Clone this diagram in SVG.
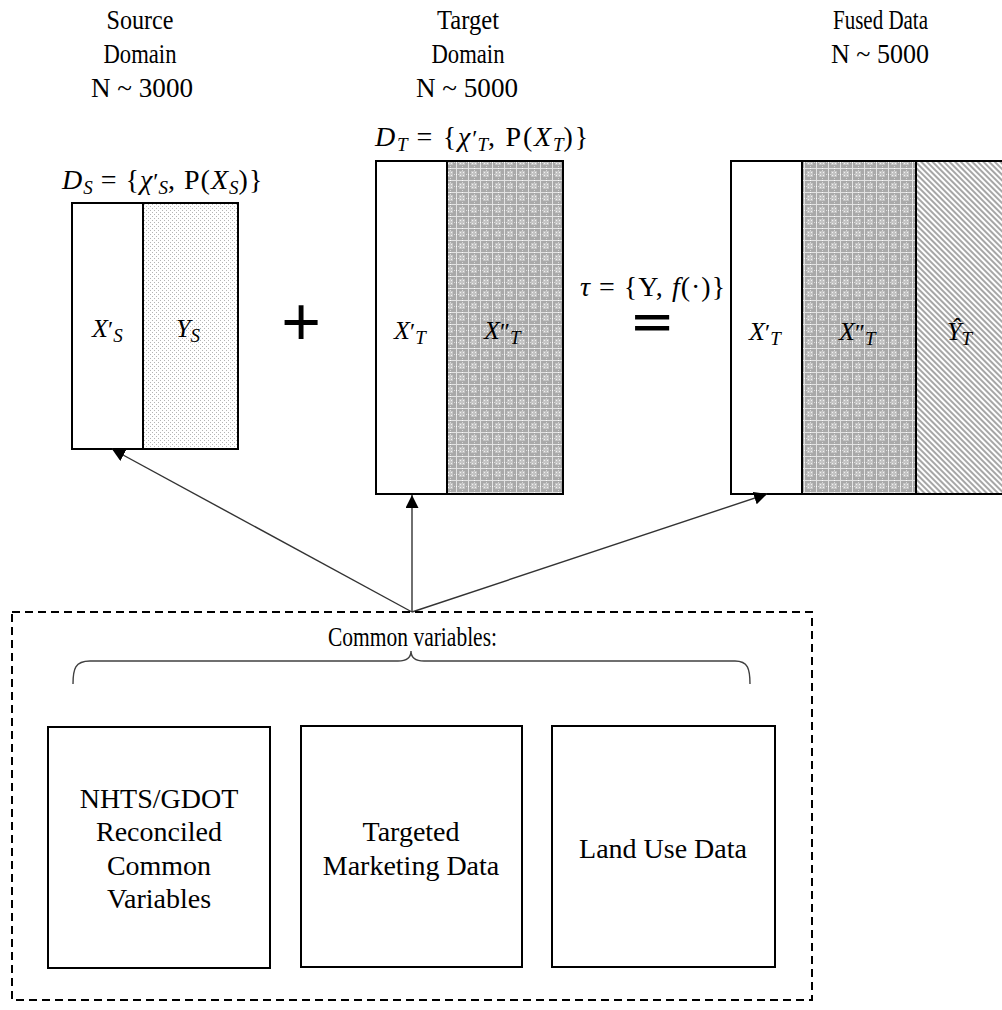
<svg xmlns="http://www.w3.org/2000/svg" width="1002" height="1010" viewBox="0 0 1002 1010">
<style>
.t{font-family:"Liberation Serif","Times New Roman",serif;fill:#000}
.h{font-size:27px}
.m{font-size:28px;letter-spacing:1px}
.m2{font-size:28px;letter-spacing:1.8px}
.bm{font-size:26px}
.bx{font-size:28px}
.i{font-style:italic}
.s{font-size:19px;letter-spacing:0}
.p{font-size:24px;letter-spacing:0}
.box{fill:#fff;stroke:#000;stroke-width:2}
.conn{stroke:#333;stroke-width:1.4;fill:none}
</style>
<defs>
<pattern id="dots" width="4" height="4" patternUnits="userSpaceOnUse">
<rect width="4" height="4" fill="#fff"/>
<rect x="0" y="0" width="1" height="1" fill="#b4b4b4"/>
<rect x="2" y="2" width="1" height="1" fill="#b4b4b4"/>
</pattern>
<pattern id="plaid" width="12" height="12" patternUnits="userSpaceOnUse">
<rect width="12" height="12" fill="#a9a9a9"/>
<rect x="3" y="3" width="6" height="6" fill="#c4c4c4"/>
<rect x="0" y="0" width="12" height="1" fill="#e2e2e2"/>
<rect x="0" y="0" width="1" height="12" fill="#e2e2e2"/>
<rect x="0" y="6" width="1" height="1" fill="#fff"/>
<rect x="6" y="0" width="1" height="1" fill="#fff"/>
<rect x="4" y="4" width="1" height="1" fill="#f2f2f2"/>
<rect x="7" y="7" width="1" height="1" fill="#f2f2f2"/>
<rect x="7" y="4" width="1" height="1" fill="#f2f2f2"/>
<rect x="4" y="7" width="1" height="1" fill="#f2f2f2"/>
<rect x="2" y="6" width="1" height="1" fill="#d8d8d8"/>
<rect x="10" y="6" width="1" height="1" fill="#d8d8d8"/>
<rect x="6" y="2" width="1" height="1" fill="#d8d8d8"/>
<rect x="6" y="10" width="1" height="1" fill="#d8d8d8"/>
</pattern>
<pattern id="diag" width="4" height="4" patternUnits="userSpaceOnUse" patternTransform="rotate(-45)">
<rect width="4" height="4" fill="#fff"/>
<rect width="2" height="4" fill="#a6a6a6"/>
</pattern>
<marker id="ah" viewBox="0 0 10 10" refX="10" refY="5" markerWidth="13" markerHeight="13" markerUnits="userSpaceOnUse" orient="auto">
<path d="M0,0 L10,5 L0,10 z" fill="#000"/>
</marker>
</defs>

<g id="headings">
<text class="t h" x="106.5" y="29" textLength="67" lengthAdjust="spacingAndGlyphs">Source</text>
<text class="t h" x="103.5" y="63" textLength="73" lengthAdjust="spacingAndGlyphs">Domain</text>
<text class="t h" x="91" y="97" textLength="102" lengthAdjust="spacingAndGlyphs">N ~ 3000</text>
<text class="t h" x="437" y="29" textLength="62" lengthAdjust="spacingAndGlyphs">Target</text>
<text class="t h" x="431.5" y="63" textLength="73" lengthAdjust="spacingAndGlyphs">Domain</text>
<text class="t h" x="416" y="97" textLength="102" lengthAdjust="spacingAndGlyphs">N ~ 5000</text>
<text class="t h" x="833" y="29" textLength="95" lengthAdjust="spacingAndGlyphs">Fused Data</text>
<text class="t h" x="831" y="63" textLength="98" lengthAdjust="spacingAndGlyphs">N ~ 5000</text>
</g>

<g id="source-domain">
<text class="t m" x="62" y="189"><tspan class="i">D</tspan><tspan class="s i" dy="5">S</tspan><tspan dy="-5"> = {</tspan><tspan class="i">χ</tspan><tspan class="p">′</tspan><tspan class="s i" dy="5">S</tspan><tspan dy="-5">, P(</tspan><tspan class="i">X</tspan><tspan class="s i" dy="5">S</tspan><tspan dy="-5">)}</tspan></text>
<rect x="72" y="203" width="71" height="246" class="box"/>
<rect x="143" y="203" width="95" height="246" fill="url(#dots)" stroke="#000" stroke-width="2"/>
<text class="t bm" x="92" y="337"><tspan class="i">X</tspan><tspan class="p">′</tspan><tspan class="s i" dy="5">S</tspan></text>
<text class="t bm" x="176" y="337"><tspan class="i">Y</tspan><tspan class="s i" dy="5">S</tspan></text>
</g>

<g id="plus">
<text x="301" y="345" text-anchor="middle" style="font-family:'Liberation Sans',Arial,sans-serif;font-size:68px">+</text>
</g>

<g id="target-domain">
<text class="t m2" x="375" y="146"><tspan class="i">D</tspan><tspan class="s i" dy="5">T</tspan><tspan dy="-5"> = {</tspan><tspan class="i">χ</tspan><tspan class="p">′</tspan><tspan class="s i" dy="5">T</tspan><tspan dy="-5">, P(</tspan><tspan class="i">X</tspan><tspan class="s i" dy="5">T</tspan><tspan dy="-5">)}</tspan></text>
<rect x="376" y="161" width="71" height="333" class="box"/>
<rect x="447" y="161" width="116" height="333" fill="url(#plaid)" stroke="#000" stroke-width="2"/>
<text class="t bm" x="394" y="339"><tspan class="i">X</tspan><tspan class="p">′</tspan><tspan class="s i" dy="5">T</tspan></text>
<text class="t bm" x="484" y="339"><tspan class="i">X</tspan><tspan class="p">″</tspan><tspan class="s i" dy="5">T</tspan></text>
</g>

<g id="tau">
<text class="t m" x="580" y="296"><tspan class="i">τ</tspan><tspan> = {Y, </tspan><tspan class="i">f</tspan><tspan>(·)}</tspan></text>
</g>

<g id="equals">
<text transform="translate(652 337) scale(1 0.6)" x="0" y="0" text-anchor="middle" style="font-family:'Liberation Sans',Arial,sans-serif;font-size:68px;font-weight:bold">=</text>
</g>

<g id="fused-data">
<rect x="731" y="161" width="71" height="333" class="box"/>
<rect x="802" y="161" width="114" height="333" fill="url(#plaid)" stroke="#000" stroke-width="2"/>
<rect x="916" y="161" width="100" height="333" fill="url(#diag)" stroke="#000" stroke-width="2"/>
<text class="t bm" x="749" y="340"><tspan class="i">X</tspan><tspan class="p">′</tspan><tspan class="s i" dy="5">T</tspan></text>
<text class="t bm" x="839" y="340"><tspan class="i">X</tspan><tspan class="p">″</tspan><tspan class="s i" dy="5">T</tspan></text>
<text class="t bm" x="947" y="340"><tspan class="i">Ŷ</tspan><tspan class="s i" dy="5">T</tspan></text>
</g>

<g id="connectors">
<line x1="412" y1="612" x2="112" y2="449" class="conn" marker-end="url(#ah)"/>
<line x1="412" y1="612" x2="412" y2="495" class="conn" marker-end="url(#ah)"/>
<line x1="412" y1="612" x2="767" y2="494" class="conn" marker-end="url(#ah)"/>
</g>

<g id="common-variables">
<rect x="12" y="612" width="800" height="388" fill="none" stroke="#000" stroke-width="2" stroke-dasharray="8 5"/>
<text class="t h" x="328" y="646" textLength="169" lengthAdjust="spacingAndGlyphs">Common variables:</text>
<path d="M73,684 C73,669 75,661 90,661 L398,661 C407,661 411,658 411,651 C411,658 415,661 424,661 L735,661 C748,661 750,669 750,684" fill="none" stroke="#404040" stroke-width="1.4"/>
</g>

<g id="nhts-box">
<rect x="48" y="727" width="222" height="241" class="box" stroke-width="2.5"/>
<text class="t bx" x="159" y="808" text-anchor="middle">NHTS/GDOT</text>
<text class="t bx" x="159" y="841" text-anchor="middle">Reconciled</text>
<text class="t bx" x="159" y="875" text-anchor="middle">Common</text>
<text class="t bx" x="159" y="908" text-anchor="middle">Variables</text>
</g>

<g id="marketing-box">
<rect x="301" y="726" width="221" height="241" class="box" stroke-width="2.5"/>
<text class="t bx" x="411" y="841" text-anchor="middle">Targeted</text>
<text class="t bx" x="411" y="875" text-anchor="middle">Marketing Data</text>
</g>

<g id="landuse-box">
<rect x="552" y="726" width="223" height="241" class="box" stroke-width="2.5"/>
<text class="t bx" x="663" y="858" text-anchor="middle">Land Use Data</text>
</g>
</svg>
